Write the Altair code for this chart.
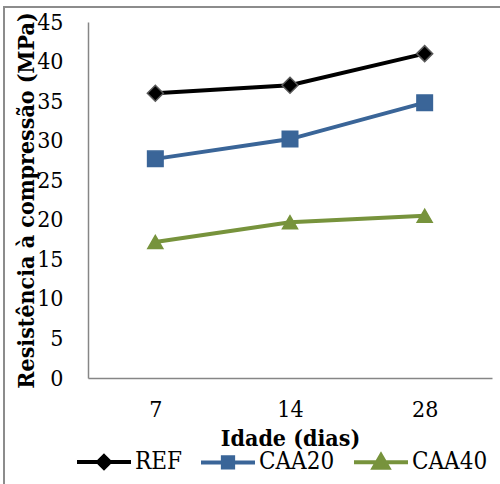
import altair as alt
import pandas as pd

ages = ["7", "14", "28"]
series = ["REF", "CAA20", "CAA40"]
ref = [36.0, 37.0, 41.0]
caa20 = [27.7, 30.2, 34.8]
caa40 = [17.2, 19.7, 20.5]
y_ticks = [0, 5, 10, 15, 20, 25, 30, 35, 40, 45]

colors = ["#000000", "#3A6598", "#77933C"]
outlines = ["#5A5A5A", "#3A6598", "#77933C"]
marker_shapes = ["diamond", "square", "triangle-up"]
marker_sizes = [256, 225, 300]
legend_shapes = [
    "M-1,0L1,0M0,-0.22L0.22,0L0,0.22L-0.22,0Z",
    "M-1,0L1,0M-0.19,-0.19L0.19,-0.19L0.19,0.19L-0.19,0.19Z",
    "M-1,0L1,0M0,-0.26L0.27,0.2L-0.27,0.2Z",
]

rows = []
for s, vals in zip(series, [ref, caa20, caa40]):
    for a, v in zip(ages, vals):
        rows.append({"Idade": a, "Serie": s, "Valor": v})
df = pd.DataFrame(rows)

FONT = "DejaVu Serif Condensed"

x_enc = alt.X(
    "Idade:N",
    sort=ages,
    scale=alt.Scale(type="point", padding=0.5),
    axis=alt.Axis(
        title="Idade (dias)",
        labelAngle=0,
        labelPadding=20,
        titleY=60,
        titleBaseline="middle",
    ),
)
y_enc = alt.Y(
    "Valor:Q",
    scale=alt.Scale(domain=[0, 45], nice=False),
    axis=alt.Axis(
        title="Resistência à compressão (MPa)",
        values=y_ticks,
        labelPadding=25,
        titleX=-62,
        titleY=178,
        titleBaseline="middle",
        titleAlign="center",
    ),
)

base = alt.Chart(df)

lines = base.mark_line(strokeWidth=4).encode(
    x=x_enc,
    y=y_enc,
    color=alt.Color("Serie:N", scale=alt.Scale(domain=series, range=colors), legend=None),
    detail="Serie:N",
)

points = base.mark_point(filled=True, opacity=1, strokeWidth=1.5).encode(
    x=x_enc,
    y=y_enc,
    color=alt.Color("Serie:N", scale=alt.Scale(domain=series, range=colors), legend=None),
    stroke=alt.Stroke("Serie:N", scale=alt.Scale(domain=series, range=outlines), legend=None),
    shape=alt.Shape("Serie:N", scale=alt.Scale(domain=series, range=marker_shapes), legend=None),
    size=alt.Size("Serie:N", scale=alt.Scale(domain=series, range=marker_sizes), legend=None),
)

leg = alt.Legend(
    title=None,
    orient="none",
    legendX=-13,
    legendY=411,
    direction="horizontal",
    columns=3,
    symbolSize=2916,
    symbolStrokeWidth=4,
    symbolOpacity=1,
    labelFont=FONT,
    labelFontSize=24,
    labelColor="#000000",
    labelOffset=2,
    columnPadding=11,
    padding=0,
)

legend_layer = (
    base.mark_point(filled=False, opacity=1, strokeWidth=4, size=2916)
    .encode(
        x=x_enc,
        y=y_enc,
        color=alt.Color("Serie:N", scale=alt.Scale(domain=series, range=colors), legend=leg),
        fill=alt.Fill("Serie:N", scale=alt.Scale(domain=series, range=colors), legend=leg),
        shape=alt.Shape("Serie:N", scale=alt.Scale(domain=series, range=legend_shapes), legend=leg),
    )
    .transform_filter("false")
)

frame = alt.Chart(pd.DataFrame({"f": [0]})).mark_rect(
    fillOpacity=0, stroke="#8C8C8C", strokeWidth=2
).encode(
    x=alt.value(-84), x2=alt.value(420), y=alt.value(-15), y2=alt.value(470)
)

chart = (
    alt.layer(frame, lines, points, legend_layer)
    .resolve_scale(color="independent", shape="independent", stroke="independent", fill="independent")
    .properties(
        width=404,
        height=356,
        padding={"left": 88, "top": 22, "right": 8, "bottom": 106},
        autosize=alt.AutoSizeParams(type="none"),
        background="#FFFFFF",
    )
    .configure_view(stroke="transparent")
    .configure_axis(
        domainColor="#868686",
        domainWidth=1.5,
        ticks=False,
        grid=False,
        labelFont=FONT,
        labelFontSize=23,
        labelColor="#000000",
        titleFont=FONT,
        titleFontSize=23,
        titleFontWeight="bold",
        titleColor="#000000",
    )
)

chart.save("out.html", embed_options={"renderer": "svg", "actions": False})
